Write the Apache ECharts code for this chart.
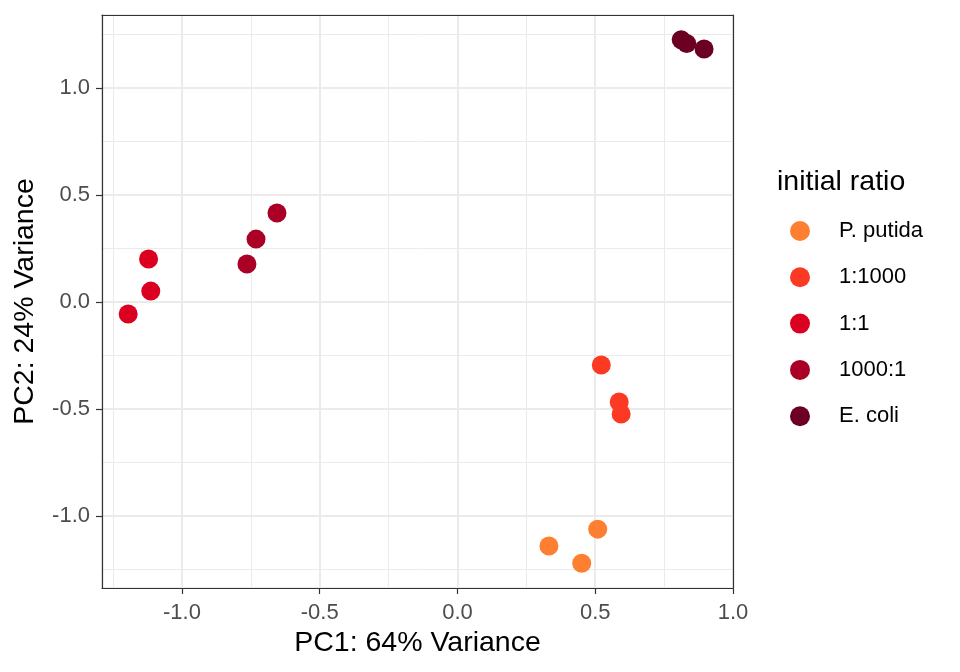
<!DOCTYPE html>
<html>
<head>
<meta charset="utf-8">
<script src="https://cdn.jsdelivr.net/npm/echarts@6/dist/echarts.min.js"></script>
<style>
html, body { margin: 0; padding: 0; background: #fff; }
#chart { width: 960px; height: 672px; }
</style>
</head>
<body>
<div id="chart"></div>
<script>
// PCA 散点图 数据
const groups = ['P. putida', '1:1000', '1:1', '1000:1', 'E. coli'];
const colors = ['#FE7F32', '#FC3A24', '#DC0020', '#AB0025', '#6B0022'];
const pc1 = [
	[0.332, 0.451, 0.509],
	[0.522, 0.587, 0.594],
	[-1.195, -1.121, -1.113],
	[-0.764, -0.731, -0.655],
	[0.812, 0.832, 0.895]
];
const pc2 = [
	[-1.140, -1.220, -1.061],
	[-0.294, -0.467, -0.523],
	[-0.056, 0.201, 0.051],
	[0.178, 0.294, 0.416],
	[1.225, 1.208, 1.182]
];

let chart = echarts.init(document.getElementById('chart'));

let series = groups.map((name, i) => ({
	name: name,
	type: 'scatter',
	symbolSize: 19,
	itemStyle: { color: colors[i], opacity: 1 },
	data: pc1[i].map((x, j) => [x, pc2[i][j]])
}));

const font = 'Liberation Sans';
const xRange = [-1.29, 1.0];
const yRange = [-1.336, 1.341];

let axisCommon = {
	type: 'value',
	axisLine: { show: true, onZero: false, lineStyle: { color: '#333', width: 1.2 } },
	axisTick: { show: true, length: 6, lineStyle: { color: '#333', width: 1.2 } },
	axisLabel: {
		color: '#4D4D4D', fontSize: 22, fontFamily: font,
		formatter: v => v.toFixed(1)
	},
	splitLine: { show: true, lineStyle: { color: '#EBEBEB', width: 2 } },
	minorTick: { show: false, splitNumber: 2 },
	minorSplitLine: { show: true, lineStyle: { color: '#EBEBEB', width: 1 } },
	nameTextStyle: { color: '#000', fontSize: 28.5, fontFamily: font }
};

// 上、右边框
let borderAxis = {
	type: 'value',
	axisLine: { show: true, onZero: false, lineStyle: { color: '#333', width: 1.2 } },
	axisTick: { show: false },
	axisLabel: { show: false },
	splitLine: { show: false }
};

let option = {
	backgroundColor: '#fff',
	animation: false,
	grid: {
		left: 102, right: 227, top: 15, bottom: 84,
		containLabel: false, outerBoundsMode: 'none',
		show: false
	},
	title: {
		text: 'initial ratio',
		left: 777, top: 168, padding: 0,
		textStyle: { color: '#000', fontSize: 28.5, fontWeight: 'normal', fontFamily: font }
	},
	legend: {
		data: groups,
		orient: 'vertical',
		left: 790, top: 220, padding: 0,
		icon: 'circle',
		itemWidth: 20, itemHeight: 20,
		itemGap: 24.3,
		textStyle: { color: '#000', fontSize: 22, fontFamily: font, padding: [0, 0, 0, 24] },
		selectedMode: false
	},
	xAxis: [
		Object.assign({}, axisCommon, {
			min: xRange[0], max: xRange[1],
			name: 'PC1: 64% Variance',
			nameLocation: 'middle', nameGap: 40,
			axisLabel: Object.assign({}, axisCommon.axisLabel, { showMinLabel: false, margin: 14 })
		}),
		Object.assign({}, borderAxis, { position: 'top', min: xRange[0], max: xRange[1] })
	],
	yAxis: [
		Object.assign({}, axisCommon, {
			min: yRange[0], max: yRange[1],
			name: 'PC2: 24% Variance',
			nameLocation: 'middle', nameGap: 62,
			axisLabel: Object.assign({}, axisCommon.axisLabel, { showMinLabel: false, showMaxLabel: false, margin: 12 })
		}),
		Object.assign({}, borderAxis, { position: 'right', min: yRange[0], max: yRange[1] })
	],
	series: series
};

chart.setOption(option);
</script>
</body>
</html>
